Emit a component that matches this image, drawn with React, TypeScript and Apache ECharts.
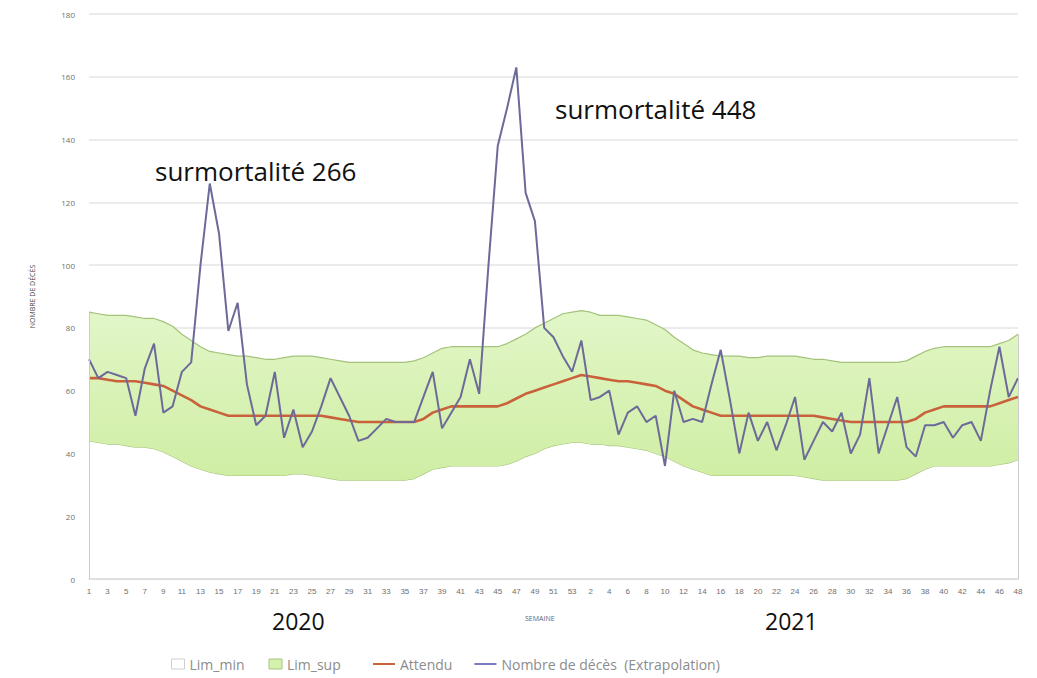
import React, { useEffect, useRef } from "react";
import * as echarts from "echarts";

const weeks2020: number[] = Array.from({ length: 53 }, (_, i) => i + 1);
const weeks2021: number[] = Array.from({ length: 48 }, (_, i) => i + 1);

const deces2020 = [70, 64, 66, 65, 64, 52, 67, 75, 53, 55, 66, 69, 100, 126, 110, 79, 88, 62, 49, 52, 66, 45, 54, 42, 47, 55, 64, 58, 52, 44, 45, 48, 51, 50, 50, 50, 58, 66, 48, 53, 58, 70, 59, 100, 138, 150, 163, 123, 114, 80, 77, 71, 66];
const deces2021 = [76, 57, 58, 60, 46, 53, 55, 50, 52, 36, 60, 50, 51, 50, 62, 73, 57, 40, 53, 44, 50, 41, 49, 58, 38, 44, 50, 47, 53, 40, 46, 64, 40, 49, 58, 42, 39, 49, 49, 50, 45, 49, 50, 44, 60, 74, 58, 64];

const attendu2020 = [64, 64, 63.5, 63, 63, 63, 62.5, 62, 61.5, 60, 58.5, 57, 55, 54, 53, 52, 52, 52, 52, 52, 52, 52, 52, 52, 52, 52, 51.5, 51, 50.5, 50, 50, 50, 50, 50, 50, 50, 51, 53, 54, 55, 55, 55, 55, 55, 55, 56, 57.5, 59, 60, 61, 62, 63, 64];
const attendu2021 = [65, 64.5, 64, 63.5, 63, 63, 62.5, 62, 61.5, 60, 59, 57, 55, 54, 53, 52, 52, 52, 52, 52, 52, 52, 52, 52, 52, 52, 51.5, 51, 50.5, 50, 50, 50, 50, 50, 50, 50, 51, 53, 54, 55, 55, 55, 55, 55, 55, 56, 57, 58];

const limSup2020 = [85, 84.5, 84, 84, 84, 83.5, 83, 83, 82, 80.5, 78, 76, 74, 72.5, 72, 71.5, 71, 71, 70.5, 70, 70, 70.5, 71, 71, 71, 70.5, 70, 69.5, 69, 69, 69, 69, 69, 69, 69, 69.5, 70.5, 72, 73.5, 74, 74, 74, 74, 74, 74, 75, 76.5, 78, 80, 81.5, 83, 84.5, 85];
const limSup2021 = [85.5, 85, 84, 84, 84, 83.5, 83, 82.5, 81, 79.5, 77, 75, 73, 72, 71.5, 71, 71, 71, 70.5, 70.5, 71, 71, 71, 71, 70.5, 70, 70, 69.5, 69, 69, 69, 69, 69, 69, 69, 69.5, 71, 72.5, 73.5, 74, 74, 74, 74, 74, 74, 75, 76, 78];

const limMin2020 = [44, 43.5, 43, 43, 42.5, 42, 42, 41.5, 40.5, 39, 37.5, 36, 35, 34, 33.5, 33, 33, 33, 33, 33, 33, 33, 33.5, 33.5, 33, 32.5, 32, 31.5, 31.5, 31.5, 31.5, 31.5, 31.5, 31.5, 31.5, 32, 33.5, 35, 35.5, 36, 36, 36, 36, 36, 36, 36.5, 37.5, 39, 40, 41.5, 42.5, 43, 43.5];
const limMin2021 = [43.5, 43, 43, 42.5, 42.5, 42, 41.5, 41, 40, 39, 37.5, 36, 35, 34, 33, 33, 33, 33, 33, 33, 33, 33, 33, 33, 32.5, 32, 31.5, 31.5, 31.5, 31.5, 31.5, 31.5, 31.5, 31.5, 31.5, 32, 33.5, 35, 36, 36, 36, 36, 36, 36, 36, 36.5, 37, 38];

const yTicks = { min: 0, max: 180, interval: 20 };

const seriesNames = {
  min: "Lim_min",
  sup: "Lim_sup",
  att: "Attendu",
  deces: "Nombre de décès  (Extrapolation)",
};

const annotations = [
  { text: "surmortalité 266", x: 155, y: 174 },
  { text: "surmortalité 448", x: 555, y: 112 },
];
const yearLabels = [
  { text: "2020", x: 272, y: 620 },
  { text: "2021", x: 765, y: 620 },
];

export default function App() {
  const ref = useRef<HTMLDivElement>(null);
  useEffect(() => {
    if (!ref.current) return;
    const chart = echarts.init(ref.current, undefined, { renderer: "svg" });

    const cats = [
      ...weeks2020.map((w) => "2020-" + w),
      ...weeks2021.map((w) => "2021-" + w),
    ];
    const deces = [...deces2020, ...deces2021];
    const attendu = [...attendu2020, ...attendu2021];
    const limSup = [...limSup2020, ...limSup2021];
    const limMin = [...limMin2020, ...limMin2021];
    const bandDiff = limSup.map((v, i) => +(v - limMin[i]).toFixed(2));
    const last = cats.length - 1;

    const fontUI = "'Open Sans', 'Noto Sans', sans-serif";
    const legendText = { fontSize: 14, color: "#8c8c8c", fontFamily: fontUI };

    chart.setOption({
      animation: false,
      backgroundColor: "#ffffff",
      grid: { left: 89, right: 19, top: 14, bottom: 99 },
      xAxis: {
        type: "category",
        data: cats,
        boundaryGap: false,
        z: 5,
        axisLine: { lineStyle: { color: "#d9d9d9", width: 1.5 } },
        axisTick: { show: false },
        axisLabel: {
          interval: 1,
          fontSize: 8,
          color: "#6f6f6f",
          margin: 8,
          fontFamily: "'Liberation Sans Narrow', 'Liberation Sans', sans-serif",
          formatter: (v: string) => v.split("-")[1],
        },
        splitLine: { show: false },
      },
      yAxis: {
        type: "value",
        min: yTicks.min,
        max: yTicks.max,
        interval: yTicks.interval,
        name: "NOMBRE DE DÉCÈS",
        nameLocation: "middle",
        nameRotate: 90,
        nameGap: 53,
        nameTextStyle: { fontSize: 7, color: "#444", fontFamily: fontUI },
        axisLine: { show: false },
        axisTick: { show: false },
        axisLabel: { fontSize: 8, color: "#6f6f6f", margin: 14, fontFamily: fontUI },
        splitLine: { lineStyle: { color: "#e4e4e4", width: 1.5 } },
      },
      legend: [
        {
          left: 166,
          top: 652,
          itemWidth: 13,
          itemHeight: 10,
          itemGap: 24,
          textStyle: legendText,
          data: [
            { name: seriesNames.min, icon: "rect", itemStyle: { color: "#ffffff", borderColor: "#cfcfcf", borderWidth: 1 } },
            { name: seriesNames.sup, icon: "rect", itemStyle: { color: "#d6f1ad", borderColor: "#a6c67a", borderWidth: 1 } },
          ],
        },
        {
          left: 368,
          top: 652,
          itemWidth: 22,
          itemHeight: 2,
          itemGap: 22,
          textStyle: legendText,
          data: [
            { name: seriesNames.att, icon: "rect", itemStyle: { color: "#c9623a" } },
            { name: seriesNames.deces, icon: "rect", itemStyle: { color: "#7c7cc0" } },
          ],
        },
      ],
      series: [
        {
          name: seriesNames.min,
          type: "line",
          stack: "band",
          data: limMin,
          symbol: "none",
          z: 1,
          lineStyle: { color: "#a8c47f", width: 1.2 },
          itemStyle: { color: "#ffffff" },
          areaStyle: { color: "#ffffff", opacity: 1 },
        },
        {
          name: seriesNames.sup,
          type: "line",
          stack: "band",
          data: bandDiff,
          symbol: "none",
          z: 2,
          lineStyle: { color: "#a3c27a", width: 1.2 },
          itemStyle: { color: "#d6f1ad" },
          areaStyle: {
            opacity: 1,
            color: new echarts.graphic.LinearGradient(0, 0, 0, 1, [
              { offset: 0, color: "#e2f6c8" },
              { offset: 1, color: "#cfeea3" },
            ]),
          },
          markLine: {
            silent: true,
            symbol: "none",
            label: { show: false },
            lineStyle: { color: "#cccccc", width: 1, type: "solid" },
            data: [
              [{ coord: [cats[0], 0] }, { coord: [cats[0], limSup[0]] }],
              [{ coord: [cats[last], 0] }, { coord: [cats[last], limSup[last]] }],
            ],
          },
        },
        {
          name: seriesNames.att,
          type: "line",
          data: attendu,
          symbol: "none",
          z: 3,
          lineStyle: { color: "#c9623a", width: 2.6 },
          itemStyle: { color: "#c9623a" },
        },
        {
          name: seriesNames.deces,
          type: "line",
          data: deces,
          symbol: "none",
          z: 4,
          lineStyle: { color: "#6c6a98", width: 2 },
          itemStyle: { color: "#7c7cc0" },
        },
      ],
      graphic: [
        ...annotations.map((a) => ({
          type: "text",
          left: a.x,
          top: a.y - 16,
          z: 10,
          style: { text: a.text, fontSize: 26, fill: "#111", fontFamily: fontUI },
        })),
        ...yearLabels.map((a) => ({
          type: "text",
          left: a.x,
          top: a.y - 11,
          z: 10,
          style: { text: a.text, fontSize: 23, fill: "#111", fontFamily: fontUI },
        })),
        {
          type: "text",
          left: 525,
          top: 615,
          style: { text: "SEMAINE", fontSize: 7, fill: "#666", fontFamily: fontUI },
        },
      ],
    });
    return () => chart.dispose();
  }, []);
  return (
    <div
      ref={ref}
      style={{ position: "fixed", left: 0, top: 0, width: 1037, height: 678 }}
    />
  );
}
